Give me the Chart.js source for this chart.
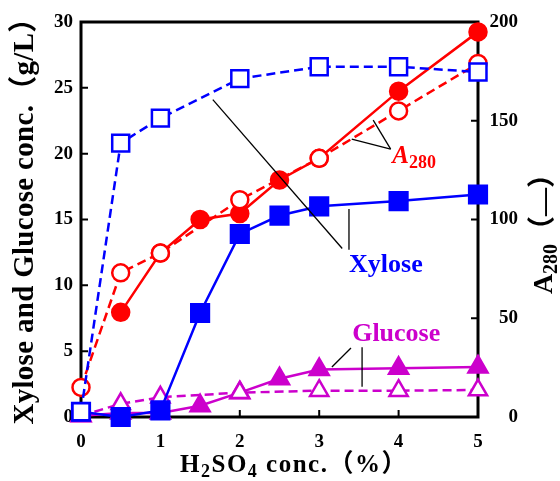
<!DOCTYPE html>
<html>
<head>
<meta charset="UTF-8">
<title>Xylose, Glucose and A280</title>
<style>
  body { margin: 0; background: #fff; }
  #wrap { width: 560px; height: 481px; }
</style>
<script src="https://cdn.jsdelivr.net/npm/chart.js"></script>
</head>
<body>
<div id="wrap"><canvas id="chart" width="560" height="481"></canvas></div>
<script>
  // H2SO4 concentration (%)
  const xSolid = [0, 0.5, 1, 1.5, 2, 2.5, 3, 4, 5];
  const xDashed = [0, 0.5, 1, 2, 3, 4, 5];
  const xA280Solid = [0.5, 1, 1.5, 2, 2.5, 3, 4, 5];

  // g/L (left axis)
  const xyloseSolid = [0.4, 0, 0.5, 7.9, 13.9, 15.3, 16.0, 16.4, 16.9];
  const xyloseDashed = [0.4, 20.8, 22.7, 25.7, 26.6, 26.6, 26.2];
  const glucoseSolid = [0.1, 0.3, 0.3, 0.85, 1.85, 2.9, 3.6, 3.7, 3.8];
  const glucoseDashed = [0.1, 1.0, 1.5, 1.85, 2.0, 2.0, 2.05];

  // A280 (right axis)
  const a280Solid = [53, 83, 100, 103, 120, 131, 165, 195];
  const a280Dashed = [15, 73, 83, 110, 131, 155, 179];

  const xTicks = [0, 1, 2, 3, 4, 5];
  const yTicks = [0, 5, 10, 15, 20, 25, 30];
  const y2Ticks = [0, 50, 100, 150, 200];

  const BLUE = '#0000ff', RED = '#ff0000', MAG = '#cc00cc';
  const SERIF = '"Liberation Serif", "Times New Roman", "Noto Sans CJK JP", serif';

  function pts(xs, ys) { return xs.map((x, i) => ({ x: x, y: ys[i] })); }

  // callout lines, in data coordinates (x, left-axis y)
  const callouts = [
    [[1.66, 24.1], [3.29, 12.8]],
    [[3.375, 15.8], [3.375, 12.7]],
    [[3.90, 20.35], [3.68, 22.55]],
    [[3.90, 20.35], [3.41, 21.1]],
    [[3.40, 5.24], [3.16, 3.8]],
    [[3.54, 5.3], [3.54, 2.3]]
  ];

  function drawRich(ctx, parts, x, y, rot, spacing) {
    ctx.save();
    ctx.translate(x, y);
    ctx.rotate(rot || 0);
    ctx.textBaseline = 'middle';
    ctx.textAlign = 'left';
    ctx.letterSpacing = (spacing || 0) + 'px';
    let w = 0;
    parts.forEach(p => { ctx.font = p.f; w += ctx.measureText(p.t).width; });
    let cx = -w / 2;
    parts.forEach(p => {
      ctx.font = p.f;
      ctx.fillStyle = p.c || '#000';
      ctx.fillText(p.t, cx, p.dy || 0);
      cx += ctx.measureText(p.t).width;
    });
    ctx.restore();
  }

  const framePlugin = {
    id: 'frame',
    beforeDatasetsDraw(chart) {
      const { ctx, chartArea: a, scales } = chart;
      ctx.save();
      ctx.strokeStyle = '#000';
      ctx.lineWidth = 3;
      ctx.strokeRect(a.left, a.top, a.right - a.left, a.bottom - a.top);
      ctx.lineWidth = 2;
      ctx.beginPath();
      yTicks.forEach(v => {
        const py = scales.y.getPixelForValue(v);
        ctx.moveTo(a.left, py); ctx.lineTo(a.left + 7, py);
      });
      y2Ticks.forEach(v => {
        const py = scales.y2.getPixelForValue(v);
        ctx.moveTo(a.right, py); ctx.lineTo(a.right - 7, py);
      });
      xTicks.forEach(v => {
        const px = scales.x.getPixelForValue(v);
        ctx.moveTo(px, a.bottom); ctx.lineTo(px, a.bottom - 7);
      });
      ctx.stroke();
      ctx.restore();
    },
    afterDraw(chart) {
      const { ctx, scales } = chart;
      const X = v => scales.x.getPixelForValue(v);
      const Y = v => scales.y.getPixelForValue(v);
      ctx.save();
      ctx.lineWidth = 1.3;
      ctx.strokeStyle = '#000';
      callouts.forEach(c => {
        ctx.beginPath();
        ctx.moveTo(X(c[0][0]), Y(c[0][1]));
        ctx.lineTo(X(c[1][0]), Y(c[1][1]));
        ctx.stroke();
      });
      ctx.restore();

      // series labels
      drawRich(ctx, [{ t: 'Xylose', f: 'bold 26px ' + SERIF, c: BLUE }], X(3.84), Y(11.5));
      drawRich(ctx, [{ t: 'Glucose', f: 'bold 26px ' + SERIF, c: MAG }], X(3.97), Y(6.25));
      ctx.save();
      ctx.textBaseline = 'alphabetic';
      ctx.fillStyle = RED;
      ctx.font = 'italic bold 25px ' + SERIF;
      const ax = X(3.92), ay = Y(19.3);
      ctx.fillText('A', ax, ay);
      const aw = ctx.measureText('A').width;
      ctx.font = 'bold 18px ' + SERIF;
      ctx.fillText('280', ax + aw, ay + 5);
      ctx.restore();

      // axis titles
      const big = 'bold 25px ' + SERIF, sub = 'bold 18px ' + SERIF;
      drawRich(ctx, [
        { t: 'H', f: big }, { t: '2', f: sub, dy: 6 }, { t: 'SO', f: big },
        { t: '4', f: sub, dy: 6 }, { t: ' conc.（%）', f: big }
      ], 294, 466, 0, 1.5);
      drawRich(ctx, [{ t: 'Xylose and Glucose conc.（g/L）', f: 'bold 29px ' + SERIF }], 26, 214, -Math.PI / 2, 0.3);
      drawRich(ctx, [
        { t: 'A', f: 'bold 28px ' + SERIF }, { t: '280', f: 'bold 20px ' + SERIF, dy: 7 },
        { t: '（—）', f: 'bold 28px ' + SERIF }
      ], 545, 227, -Math.PI / 2);
    }
  };

  const series = (label, data, color, style, axis, radius, shape) => ({
    label: label,
    data: data,
    yAxisID: axis,
    borderColor: color,
    borderWidth: 2.5,
    borderDash: style === 'dash' ? [9, 5] : [],
    pointStyle: shape,
    pointRadius: radius,
    pointHoverRadius: radius,
    pointBorderColor: color,
    pointBorderWidth: 2.5,
    pointBackgroundColor: style === 'dash' ? '#fff' : color,
    fill: false,
    tension: 0,
    clip: false
  });

  new Chart(document.getElementById('chart'), {
    type: 'line',
    data: {
      datasets: [
        series('Xylose (dashed)', pts(xDashed, xyloseDashed), BLUE, 'dash', 'y', 12, 'rect'),
        series('Xylose', pts(xSolid, xyloseSolid), BLUE, 'solid', 'y', 12.5, 'rect'),
        series('Glucose (dashed)', pts(xDashed, glucoseDashed), MAG, 'dash', 'y', 10.5, 'triangle'),
        series('Glucose', pts(xSolid, glucoseSolid), MAG, 'solid', 'y', 11, 'triangle'),
        series('A280 (dashed)', pts(xDashed, a280Dashed), RED, 'dash', 'y2', 8.5, 'circle'),
        series('A280', pts(xA280Solid, a280Solid), RED, 'solid', 'y2', 8.5, 'circle')
      ]
    },
    options: {
      responsive: false,
      animation: false,
      events: [],
      layout: { padding: { top: 22, right: 42, left: 0, bottom: 0 }, autoPadding: false },
      plugins: { legend: { display: false }, tooltip: { enabled: false } },
      scales: {
        x: {
          type: 'linear', min: 0, max: 5,
          grid: { display: false, drawTicks: false }, border: { display: false },
          ticks: { stepSize: 1, padding: 14, color: '#000', font: { family: SERIF, size: 19, weight: 'bold' } },
          afterFit: s => { s.height = 64; }
        },
        y: {
          type: 'linear', position: 'left', min: 0, max: 30,
          grid: { display: false, drawTicks: false }, border: { display: false },
          ticks: { stepSize: 5, padding: 8, color: '#000', font: { family: SERIF, size: 19, weight: 'bold' } },
          afterFit: s => { s.width = 81; }
        },
        y2: {
          type: 'linear', position: 'right', min: 0, max: 200,
          grid: { display: false, drawTicks: false }, border: { display: false },
          ticks: { stepSize: 50, padding: 10, crossAlign: 'far', color: '#000', font: { family: SERIF, size: 19, weight: 'bold' } },
          afterFit: s => { s.width = 40; }
        }
      }
    },
    plugins: [framePlugin]
  });
</script>
</body>
</html>
